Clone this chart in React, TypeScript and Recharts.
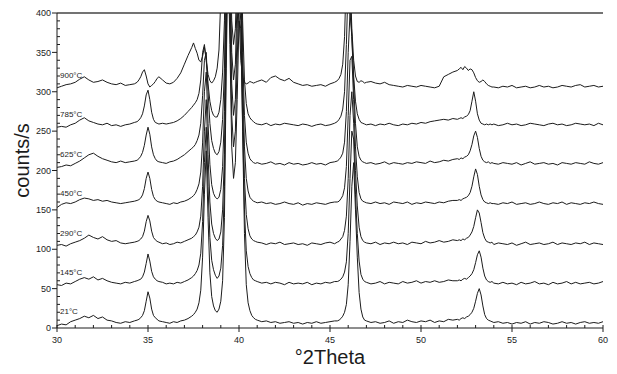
import React from 'react';
import { LineChart, Line, XAxis, YAxis, ReferenceLine, ReferenceDot, Label } from 'recharts';

// °2Theta positions (finer steps around the reflections)
const twoTheta = [
  30, 30.25, 30.5, 30.75, 31, 31.25, 31.5, 31.75, 32, 32.25, 32.5, 32.75, 33, 33.25, 33.5, 33.75, 34, 34.25,
  34.4, 34.5, 34.6, 34.7, 34.8, 34.9, 35, 35.1, 35.2, 35.3, 35.4, 35.5, 35.6,
  35.8, 36, 36.2, 36.4, 36.6, 36.8, 37, 37.2, 37.4,
  37.5, 37.6, 37.7, 37.8, 37.9, 38, 38.1, 38.2, 38.3, 38.4, 38.5, 38.6, 38.7, 38.8, 38.9, 39, 39.1, 39.2, 39.3,
  39.4, 39.5, 39.6, 39.7, 39.8, 39.9, 40, 40.1, 40.2, 40.3, 40.4, 40.5, 40.6, 40.7, 40.8, 40.9,
  41, 41.25, 41.5, 41.75, 42, 42.25, 42.5, 42.75, 43, 43.25, 43.5, 43.75, 44, 44.25, 44.5, 44.75, 45, 45.25,
  45.4, 45.5, 45.6, 45.7, 45.8, 45.9, 46, 46.1, 46.2, 46.3, 46.4, 46.5, 46.6, 46.7, 46.8, 46.9,
  47, 47.25, 47.5, 47.75, 48, 48.25, 48.5, 48.75, 49, 49.25, 49.5, 49.75, 50, 50.25, 50.5, 50.75, 51, 51.25, 51.5, 51.75,
  52, 52.1, 52.2, 52.3, 52.4, 52.5, 52.6, 52.7, 52.8, 52.9, 53, 53.1, 53.2, 53.3, 53.4, 53.5, 53.6, 53.7, 53.8, 53.9,
  54, 54.25, 54.5, 54.75, 55, 55.25, 55.5, 55.75, 56, 56.25, 56.5, 56.75, 57, 57.25, 57.5, 57.75, 58, 58.25, 58.5, 58.75,
  59, 59.25, 59.5, 59.75, 60,
];

const temps = ['21°C', '145°C', '290°C', '450°C', '625°C', '785°C', '900°C'];
// vertical stacking of the patterns
const offsets = [0, 50, 100, 150, 200, 250, 300];

// counts/s for each temperature (before stacking)
const counts21 = [
  3, 5, 4, 8, 10, 12, 15, 13, 16, 12, 14, 10, 9, 7, 6, 8, 7, 9,
  10, 11, 13, 16, 22, 34, 46, 38, 24, 16, 13, 11, 9,
  8, 7, 6, 8, 7, 9, 10, 12, 15,
  17, 20, 24, 32, 48, 90, 170, 225, 140, 70, 40, 28, 22, 20, 24, 34, 60, 140, 330, 480, 360, 230, 190, 210, 290, 390, 380, 250, 120, 55, 32, 22, 16, 13, 11,
  10, 8, 9, 7, 8, 6, 7, 8, 6, 7, 5, 7, 6, 8, 6, 7, 8, 9,
  9, 10, 12, 15, 20, 30, 55, 110, 180, 210, 150, 90, 45, 24, 14, 10,
  9, 7, 8, 6, 7, 9, 6, 8, 7, 10, 8, 7, 9, 8, 10, 7, 9, 8, 11, 10,
  11, 10, 12, 13, 12, 14, 15, 17, 20, 25, 34, 44, 50, 42, 28, 17, 12, 10, 9, 8,
  7, 8, 6, 7, 5, 7, 6, 8, 5, 7, 6, 8, 7, 5, 6, 8, 6, 7, 5, 7, 8, 6, 7, 6, 8,
];
const counts145 = [
  5, 4, 7, 6, 9, 12, 14, 12, 15, 11, 13, 10, 8, 7, 6, 8, 7, 9,
  10, 11, 12, 15, 21, 32, 44, 35, 22, 15, 12, 10, 9,
  8, 6, 7, 6, 8, 7, 9, 11, 14,
  16, 19, 23, 30, 45, 85, 160, 205, 130, 65, 36, 24, 17, 13, 16, 26, 55, 130, 310, 460, 350, 220, 180, 200, 290, 370, 340, 210, 100, 48, 28, 19, 14, 11, 10,
  9, 7, 8, 6, 8, 7, 5, 8, 6, 7, 6, 8, 5, 7, 6, 8, 7, 9,
  9, 10, 12, 15, 21, 34, 70, 140, 200, 190, 120, 70, 35, 18, 12, 9,
  8, 6, 7, 9, 6, 8, 7, 6, 9, 7, 8, 10, 7, 9, 8, 10, 8, 9, 11, 10,
  10, 11, 10, 12, 13, 12, 14, 16, 19, 24, 33, 43, 48, 40, 26, 16, 11, 9, 8, 9,
  7, 6, 8, 6, 7, 5, 8, 6, 7, 9, 6, 7, 5, 8, 6, 7, 9, 6, 8, 6, 7, 8, 6, 7, 9,
];
const counts290 = [
  5, 6, 4, 7, 9, 11, 14, 18, 15, 13, 16, 12, 10, 11, 8, 7, 8, 9,
  10, 11, 13, 16, 23, 35, 43, 36, 23, 15, 12, 10, 9,
  7, 8, 6, 7, 9, 8, 10, 12, 14,
  16, 18, 22, 28, 42, 80, 150, 190, 120, 60, 32, 20, 14, 11, 13, 22, 50, 120, 290, 440, 330, 210, 170, 190, 280, 360, 320, 190, 90, 44, 26, 17, 13, 11, 10,
  9, 8, 6, 8, 7, 9, 6, 7, 8, 6, 7, 5, 8, 7, 6, 8, 9, 7,
  9, 10, 13, 16, 24, 42, 90, 170, 200, 160, 100, 55, 28, 16, 11, 9,
  8, 7, 9, 6, 8, 7, 9, 7, 8, 6, 9, 8, 7, 10, 8, 9, 11, 9, 10, 12,
  11, 12, 11, 13, 12, 14, 15, 18, 22, 29, 40, 50, 46, 34, 21, 14, 10, 9, 8, 9,
  6, 8, 7, 6, 8, 5, 7, 9, 6, 7, 8, 6, 7, 9, 6, 8, 7, 6, 8, 7, 9, 6, 8, 7, 6,
];
const counts450 = [
  3, 7, 9, 8, 10, 13, 15, 14, 12, 13, 11, 12, 10, 9, 8, 9, 10, 11,
  12, 13, 15, 19, 27, 40, 48, 40, 26, 17, 13, 11, 10,
  9, 8, 7, 9, 8, 10, 11, 13, 16,
  18, 21, 26, 33, 48, 85, 150, 175, 110, 58, 32, 21, 16, 14, 16, 26, 55, 125, 290, 430, 320, 200, 165, 185, 270, 350, 300, 170, 80, 40, 24, 16, 13, 11, 10,
  9, 10, 8, 9, 7, 8, 10, 8, 7, 9, 6, 8, 7, 9, 8, 7, 9, 10,
  10, 11, 14, 18, 28, 55, 120, 190, 195, 140, 80, 42, 22, 14, 11, 10,
  9, 8, 10, 8, 9, 7, 10, 9, 8, 10, 7, 9, 8, 10, 9, 8, 10, 9, 11, 12,
  12, 13, 12, 14, 15, 16, 18, 22, 30, 42, 52, 45, 30, 19, 13, 10, 9, 8, 9, 8,
  8, 7, 9, 8, 10, 7, 8, 9, 7, 8, 10, 8, 7, 9, 8, 10, 7, 9, 8, 7, 9, 8, 10, 8, 7,
];
const counts625 = [
  4, 5, 7, 6, 9, 12, 16, 20, 22, 18, 15, 13, 11, 10, 12, 10, 11, 12,
  13, 15, 18, 23, 32, 45, 55, 46, 30, 20, 15, 12, 11,
  10, 9, 11, 12, 14, 17, 20, 24, 28,
  30, 33, 38, 45, 60, 95, 140, 150, 100, 60, 38, 28, 22, 20, 24, 36, 65, 130, 280, 420, 310, 190, 160, 180, 260, 330, 280, 150, 70, 36, 22, 15, 12, 10, 9,
  10, 8, 9, 11, 8, 9, 7, 10, 8, 9, 7, 8, 10, 8, 9, 7, 10, 11,
  12, 14, 17, 22, 36, 75, 150, 200, 170, 110, 60, 30, 18, 13, 11, 10,
  9, 10, 8, 9, 11, 8, 10, 9, 8, 10, 9, 11, 10, 9, 12, 10, 11, 13, 12, 14,
  15, 14, 16, 15, 17, 18, 20, 25, 33, 44, 50, 42, 28, 18, 13, 11, 10, 11, 9, 10,
  9, 8, 10, 9, 8, 10, 7, 9, 11, 8, 9, 10, 8, 9, 7, 10, 9, 8, 10, 9, 8, 11, 9, 8, 10,
];
const counts785 = [
  5, 6, 5, 8, 10, 14, 17, 13, 11, 9, 8, 10, 7, 8, 6, 8, 9, 11,
  12, 14, 17, 22, 32, 46, 52, 40, 24, 15, 11, 10, 9,
  10, 9, 10, 11, 13, 16, 20, 25, 30,
  33, 36, 40, 48, 65, 100, 110, 90, 60, 38, 26, 20, 18, 18, 24, 40, 75, 140, 280, 400, 300, 180, 150, 170, 250, 320, 260, 140, 65, 35, 22, 17, 14, 12, 10,
  9, 8, 10, 7, 9, 8, 10, 9, 8, 7, 9, 8, 6, 8, 9, 7, 8, 10,
  12, 15, 19, 28, 50, 110, 190, 180, 120, 70, 38, 22, 15, 11, 10, 9,
  8, 9, 7, 9, 8, 10, 8, 7, 9, 8, 10, 9, 11, 10, 12, 13, 14, 15, 14, 16,
  15, 16, 17, 16, 18, 19, 21, 26, 38, 50, 38, 22, 14, 10, 9, 8, 9, 8, 9, 8,
  9, 7, 8, 10, 8, 9, 7, 8, 10, 9, 8, 7, 9, 10, 8, 9, 7, 8, 10, 9, 8, 9, 7, 10, 8,
];
const counts900 = [
  5, 7, 9, 10, 12, 16, 19, 15, 12, 13, 15, 12, 10, 9, 11, 8, 9, 10,
  12, 15, 19, 25, 28, 20, 10, 6, 8, 10, 13, 17, 19,
  15, 11, 10, 12, 17, 24, 35, 46, 56,
  62, 55, 49, 40, 38, 45, 57, 40, 22, 14, 11, 14, 19, 30, 53, 120, 260, 400, 300, 190, 160, 180, 250, 300, 220, 100, 40, 18, 12, 10, 11, 13, 12, 11, 12,
  13, 15, 12, 18, 20, 16, 14, 17, 12, 10, 8, 9, 7, 8, 9, 7, 10, 12,
  14, 17, 22, 35, 70, 150, 200, 150, 80, 40, 20, 13, 12, 14, 13, 11,
  12, 13, 11, 10, 12, 9, 8, 7, 6, 8, 7, 6, 8, 7, 6, 5, 7, 19, 22, 25,
  27, 29, 31, 28, 32, 30, 27, 29, 28, 24, 18, 14, 12, 13, 15, 13, 10, 8, 7, 6,
  6, 5, 7, 6, 8, 5, 6, 7, 5, 6, 8, 6, 7, 5, 6, 8, 7, 6, 8, 9, 6, 7, 8, 6, 7,
];

const xTicks = [
  30, 31, 32, 33, 34, 35, 36, 37, 38, 39, 40, 41, 42, 43, 44, 45, 46, 47, 48, 49, 50,
  51, 52, 53, 54, 55, 56, 57, 58, 59, 60,
];
const yTicks = [
  0, 10, 20, 30, 40, 50, 60, 70, 80, 90, 100, 110, 120, 130, 140, 150, 160, 170, 180, 190, 200,
  210, 220, 230, 240, 250, 260, 270, 280, 290, 300, 310, 320, 330, 340, 350, 360, 370, 380, 390, 400,
];

const series = [counts21, counts145, counts290, counts450, counts625, counts785, counts900];

const data = twoTheta.map((x, i) => {
  const row: Record<string, number> = { x };
  series.forEach((values, s) => {
    row[`t${s}`] = values[i] + offsets[s];
  });
  return row;
});

const INK = '#1c1c1c';

const XTick = (props: any) => {
  const { x, y, payload } = props;
  const major = payload.value % 5 === 0;
  return (
    <g>
      <line x1={x} x2={x} y1={y - 3} y2={major ? y + 4 : y} stroke={INK} strokeWidth={1} />
      {major && (
        <text x={x} y={y + 15} textAnchor="middle" fontSize={9} fill={INK}>
          {payload.value}
        </text>
      )}
    </g>
  );
};

const YTick = (props: any) => {
  const { x, y, payload } = props;
  const major = payload.value % 50 === 0;
  return (
    <g>
      {major ? (
        <line x1={x - 5} x2={x} y1={y} y2={y} stroke={INK} strokeWidth={1} />
      ) : (
        <line x1={x} x2={x + 3} y1={y} y2={y} stroke={INK} strokeWidth={1} />
      )}
      {major && (
        <text x={x - 6} y={y} dy="0.35em" textAnchor="end" fontSize={9} fill={INK}>
          {payload.value}
        </text>
      )}
    </g>
  );
};

const App: React.FC = () => {
  return (
    <div
      style={{
        position: 'absolute',
        left: 0,
        top: 0,
        width: 617,
        height: 374,
        background: '#fff',
        fontFamily: '"Liberation Sans", Arial, sans-serif',
      }}
    >
      <LineChart width={617} height={374} data={data} margin={{ top: 13, right: 14, left: 0, bottom: 0 }}>
        <XAxis
          dataKey="x"
          type="number"
          domain={[30, 60]}
          ticks={xTicks}
          interval={0}
          tickSize={0}
          tickMargin={0}
          tick={XTick}
          height={46}
          stroke={INK}
        >
          <Label value="°2Theta" position="insideBottom" offset={10} fontSize={20} fill={INK} />
        </XAxis>
        <YAxis
          type="number"
          domain={[0, 400]}
          allowDataOverflow
          ticks={yTicks}
          interval={0}
          tickSize={0}
          tickMargin={0}
          tick={YTick}
          width={57}
          stroke={INK}
        >
          <Label
            content={({ viewBox }: any) => {
              const cx = viewBox.x + 22;
              const cy = viewBox.y + viewBox.height / 2 - 10;
              return (
                <text
                  x={cx}
                  y={cy}
                  transform={`rotate(-90, ${cx}, ${cy})`}
                  textAnchor="middle"
                  dominantBaseline="central"
                  fontSize={20}
                  fill={INK}
                >
                  counts/s
                </text>
              );
            }}
          />
        </YAxis>
        <ReferenceLine y={400} stroke="#444" strokeWidth={1.5} />
        {series.map((_, s) => (
          <Line
            key={`t${s}`}
            dataKey={`t${s}`}
            type="linear"
            stroke={INK}
            strokeWidth={1}
            dot={false}
            isAnimationActive={false}
          />
        ))}
        {temps.map((t, s) => (
          <ReferenceDot
            key={t}
            x={30}
            y={offsets[s] + 21}
            r={0}
            fill="none"
            stroke="none"
            label={{ value: t, position: 'right', offset: 3, fontSize: 8, fill: INK }}
          />
        ))}
      </LineChart>
    </div>
  );
};

export default App;
